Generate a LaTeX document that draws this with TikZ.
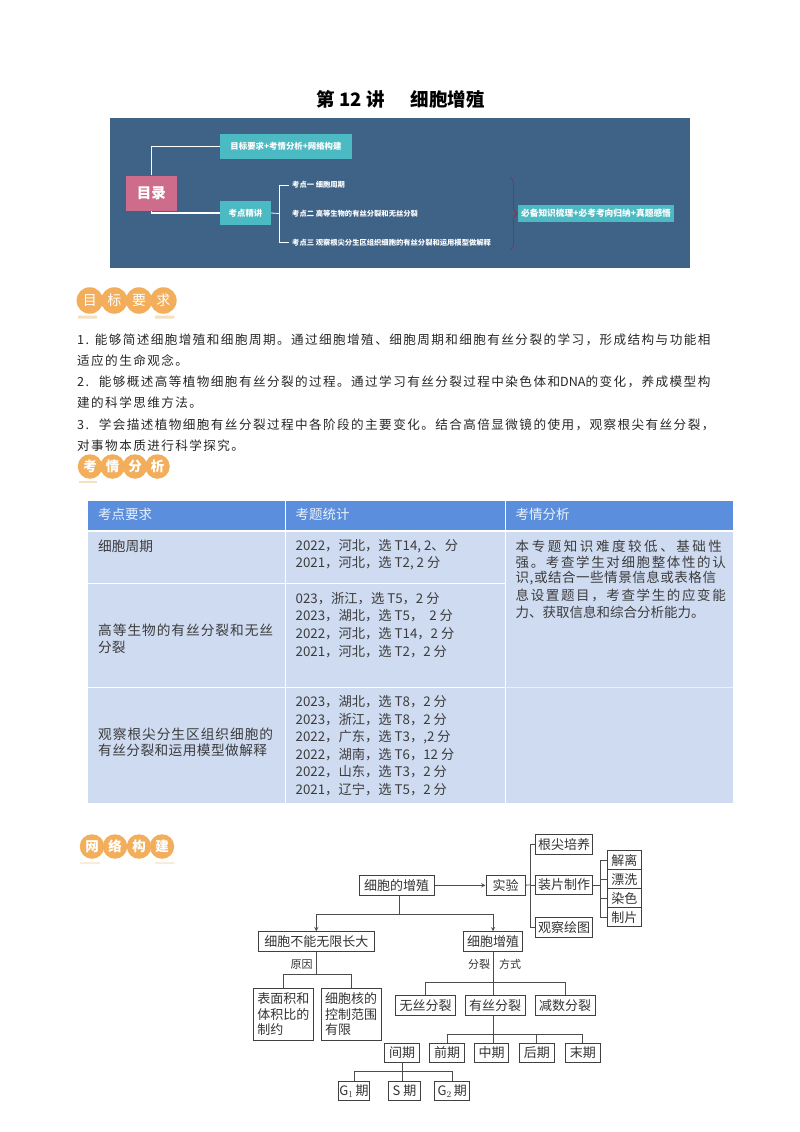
\documentclass[tikz,border=0pt]{standalone}
\usepackage{fontspec}
\setmainfont{Noto Sans CJK SC}
\newfontfamily\cjkfont{Noto Sans CJK SC}
\usetikzlibrary{decorations.pathreplacing}
\definecolor{bannerblue}{HTML}{3F6287}
\definecolor{tealbox}{HTML}{4CBAC3}
\definecolor{pinkbox}{HTML}{CE6C8B}
\definecolor{badgeorange}{HTML}{F3AE5C}
\definecolor{badgebar}{HTML}{F3DFC2}
\definecolor{headblue}{HTML}{5B8FDD}
\definecolor{cellblue}{HTML}{CFDBF1}
\definecolor{celltext}{HTML}{3C3C3C}
\definecolor{bracered}{HTML}{8A3048}
\newcommand{\fsize}[1]{\fontsize{#1}{#1}\selectfont}
\newcommand{\lsp}[1]{\addfontfeature{LetterSpace=#1}}
\tikzset{
  tealnode/.style={fill=tealbox,text=white,inner sep=0pt,font=\fsize{8.4}\bfseries},
  pointnote/.style={anchor=west,text=white,inner sep=0pt,font=\fsize{7.3}\bfseries},
  whiteline/.style={draw=white,line width=1.4pt},
  badgedisc/.style={circle,fill=badgeorange,minimum size=26.5pt,inner sep=0pt,text=white,font=\fsize{14}},
  badgeline/.style={fill=badgebar,draw=none},
  bodyline/.style={anchor=west,inner sep=0pt,text=black!85,font=\fsize{12.6}\lsp{11.3}},
  tablehead/.style={anchor=west,inner sep=0pt,text=white!88!headblue,font=\fsize{13.5}},
  tablecell/.style={anchor=west,inner sep=0pt,text=celltext,font=\fsize{13}},
  flowbox/.style={draw=black!75,line width=1pt,inner sep=0pt,text=black!80,align=center,font=\fontsize{13}{15.5}\selectfont},
  flowline/.style={draw=black!70,line width=0.9pt},
  flowarrow/.style={flowline,-stealth},
  flownote/.style={inner sep=0pt,text=black!80,font=\fsize{11}}
}
\begin{document}
\begin{tikzpicture}[x=1pt,y=-1pt]
  \useasboundingbox (0,0) rectangle (800,1132);
  \node[inner sep=0pt,font=\fsize{18.5}\bfseries] (title) at (400.5,99) {第 12 讲\hspace{26pt}细胞增殖};

  % banner
  \fill[bannerblue] (110,118) rectangle (690,268);
  \node[fill=pinkbox,text=white,inner sep=0pt,minimum width=50.5pt,minimum height=35.5pt,font=\fsize{14.5}\bfseries] (toc) at (151.3,193.3) {目录};
  \node[tealnode,minimum width=132pt,minimum height=24.5pt] (goalbox) at (286,146.3) {目标要求+考情分析+网络构建};
  \node[tealnode,minimum width=51pt,minimum height=24.5pt] (pointbox) at (245.5,213) {考点精讲};
  \node[tealnode,minimum width=156pt,minimum height=17.5pt,font=\fsize{8.7}\bfseries] (sumbox) at (596,213.3) {必备知识梳理+必考考向归纳+真题感悟};
  \draw[whiteline] (toc.north) |- (goalbox.west);
  \draw[whiteline] (toc.south) |- (pointbox.west);
  \node[pointnote] (point1) at (292,185) {考点一 细胞周期};
  \node[pointnote] (point2) at (292,214) {考点二 高等生物的有丝分裂和无丝分裂};
  \node[pointnote] (point3) at (292,242.5) {考点三 观察根尖分生区组织细胞的有丝分裂和运用模型做解释};
  \coordinate (ptree) at (279,213.5);
  \draw[white,line width=0.8pt] (pointbox.east) -- (ptree);
  \draw[white,line width=0.8pt] (point1.west) ++(-3,0) -| (ptree);
  \draw[white,line width=0.8pt] (point3.west) ++(-3,0) -| (ptree);
  \coordinate (bracetop) at (510,177);
  \coordinate (bracebot) at (510,250);
  \draw[bracered,line width=0.7pt,decorate,decoration={brace,amplitude=7pt}] (bracetop) -- (bracebot);

  % section badges
  \foreach \n/\xx/\t in {a/89.8/目,b/114.3/标,c/139/要,d/163.4/求}
    \node[badgedisc] (goal\n) at (\xx,300.5) {\t};
  \fill[badgeline] (78,315.5) rectangle (97,318.5) (155,315.5) rectangle (174,318.5);
  \foreach \n/\xx/\t in {a/90/考,b/112.5/情,c/135/分,d/157.5/析}
    \node[badgedisc,minimum size=24.5pt,font=\fsize{13.5}\bfseries] (exam\n) at (\xx,466.5) {\t};
  \fill[badgeline] (79,480.5) rectangle (97,483);
  \foreach \n/\xx/\t in {a/92/网,b/115/络,c/139/构,d/162/建}
    \node[badgedisc,minimum size=24.5pt,font=\fsize{13.5}\bfseries] (net\n) at (\xx,846.5) {\t};
  \fill[badgeline,opacity=0.6] (80,862) rectangle (100,864) (155,862) rectangle (174,864);

  % goals text
  \node[bodyline] (line1) at (77,340) {1. 能够简述细胞增殖和细胞周期。通过细胞增殖、细胞周期和细胞有丝分裂的学习，形成结构与功能相};
  \node[bodyline] (line2) at (77,360.5) {适应的生命观念。};
  \node[bodyline] (line3) at (77,382) {2.\hspace{4pt} 能够概述高等植物细胞有丝分裂的过程。通过学习有丝分裂过程中染色体和{\lsp{0}DNA}的变化，养成模型构};
  \node[bodyline] (line4) at (77,403) {建的科学思维方法。};
  \node[bodyline] (line5) at (77,424.5) {3.\hspace{4pt} 学会描述植物细胞有丝分裂过程中各阶段的主要变化。结合高倍显微镜的使用，观察根尖有丝分裂，};
  \node[bodyline] (line6) at (77,445.5) {对事物本质进行科学探究。};

  % table
  \fill[headblue] (87.5,500.5) rectangle (733,529.5);
  \fill[cellblue] (87.5,531.5) rectangle (733,802.5);
  \draw[white,line width=1pt] (285.5,500) -- (285.5,803) (505,500) -- (505,803);
  \draw[white,line width=1pt] (87,583.5) -- (505,583.5) (87,687) -- (505,687);
  \draw[white!60!cellblue,line width=0.5pt] (505,687) -- (733,687);
  \node[tablehead] (headA) at (98,514.5) {考点要求};
  \node[tablehead] (headB) at (295.5,514.5) {考题统计};
  \node[tablehead] (headC) at (515.5,514.5) {考情分析};
  \node[tablecell,font=\fsize{13.7}] (reqA) at (98,546) {细胞周期};
  \node[tablecell,font=\fsize{13.7}\lsp{7}] (reqB) at (98,630) {高等生物的有丝分裂和无丝};
  \node[tablecell,font=\fsize{13.7}] (reqC) at (98,647) {分裂};
  \node[tablecell,font=\fsize{13.7}\lsp{7}] (reqD) at (98,734) {观察根尖分生区组织细胞的};
  \node[tablecell,font=\fsize{13.7}\lsp{3}] (reqE) at (98,750) {有丝分裂和运用模型做解释};
  \foreach \n/\yy/\t in {a/546/{2022，河北，选 T14,\ 2、分},b/563.5/{2021，河北，选 T2,\ 2 分},
      c/598.5/{023，浙江，选 T5，2 分},d/616/{2023，湖北，选 T5，\ \ 2 分},
      e/633.5/{2022，河北，选 T14，2 分},f/651.5/{2021，河北，选 T2，2 分},
      g/702/{2023，湖北，选 T8，2 分},h/719.5/{2023，浙江，选 T8，2 分},
      i/737/{2022，广东，选 T3，,2 分},j/754.5/{2022，湖南，选 T6，12 分},
      k/772/{2022，山东，选 T3，2 分},l/790/{2021，辽宁，选 T5，2 分}}
    \node[tablecell,font=\fsize{13.3}] (stat\n) at (295.5,\yy) {\t};
  \node[tablecell,font=\fsize{13.5}\lsp{19}] (noteA) at (515.5,546) {本专题知识难度较低、基础性};
  \node[tablecell,font=\fsize{13.5}\lsp{12}] (noteB) at (515.5,562) {强。考查学生对细胞整体性的认};
  \node[tablecell,font=\fsize{13.5}\lsp{4}] (noteC) at (515.5,578.5) {识,或结合一些情景信息或表格信};
  \node[tablecell,font=\fsize{13.5}\lsp{12}] (noteD) at (515.5,595.5) {息设置题目，考查学生的应变能};
  \node[tablecell,font=\fsize{13.5}] (noteE) at (515.5,612) {力、获取信息和综合分析能力。};

  % network diagram
  \node[flowbox,minimum width=75pt,minimum height=20pt] (growth) at (396.7,885.3) {细胞的增殖};
  \node[flowbox,minimum width=39pt,minimum height=20pt] (experiment) at (505.5,885.3) {实验};
  \node[flowbox,minimum width=57.5pt,minimum height=20pt] (culture) at (564,844.3) {根尖培养};
  \node[flowbox,minimum width=57.5pt,minimum height=19.5pt] (mount) at (564,885) {装片制作};
  \node[flowbox,minimum width=57.5pt,minimum height=19.5pt] (observe) at (564,927.3) {观察绘图};
  \node[flowbox,minimum width=34pt,minimum height=19pt] (stepA) at (624.3,860.2) {解离};
  \node[flowbox,minimum width=34pt,minimum height=19pt] (stepB) at (624.3,879.2) {漂洗};
  \node[flowbox,minimum width=34pt,minimum height=19pt] (stepC) at (624.3,898.2) {染色};
  \node[flowbox,minimum width=34pt,minimum height=19pt] (stepD) at (624.3,917.2) {制片};
  \node[flowbox,minimum width=116pt,minimum height=20pt] (limit) at (316.3,941.7) {细胞不能无限长大};
  \node[flowbox,minimum width=59.5pt,minimum height=19.5pt] (prolif) at (493,941.5) {细胞增殖};
  \node[flowbox,align=left,minimum width=60pt,minimum height=52.5pt] (ratio) at (283.3,1014.5) {表面积和\\体积比的\\制约};
  \node[flowbox,align=left,minimum width=60pt,minimum height=52.5pt] (nucleus) at (351,1014.5) {细胞核的\\控制范围\\有限};
  \node[flowbox,minimum width=60pt,minimum height=19.5pt] (amitosis) at (425.7,1005.7) {无丝分裂};
  \node[flowbox,minimum width=60pt,minimum height=19.5pt] (mitosis) at (495,1005.7) {有丝分裂};
  \node[flowbox,minimum width=60pt,minimum height=19.5pt] (meiosis) at (565,1005.7) {减数分裂};
  \node[flowbox,minimum width=34.5pt,minimum height=19pt] (inter) at (402,1052.8) {间期};
  \node[flowbox,minimum width=34.5pt,minimum height=19pt] (pro) at (447.2,1052.8) {前期};
  \node[flowbox,minimum width=34.5pt,minimum height=19pt] (meta) at (491.5,1052.8) {中期};
  \node[flowbox,minimum width=34.5pt,minimum height=19pt] (ana) at (536.8,1052.8) {后期};
  \node[flowbox,minimum width=34.5pt,minimum height=19pt] (telo) at (582.8,1052.8) {末期};
  \node[flowbox,minimum width=30.5pt,minimum height=19pt] (gone) at (354,1090.8) {$\mathrm{G}_1$\,期};
  \node[flowbox,minimum width=31.5pt,minimum height=19pt] (sphase) at (404.5,1090.8) {S 期};
  \node[flowbox,minimum width=35pt,minimum height=19pt] (gtwo) at (452.2,1090.8) {$\mathrm{G}_2$\,期};
  \node[flownote] (cause) at (301.7,964.5) {原因};
  \node[flownote] (splitA) at (479,964.5) {分裂};
  \node[flownote] (splitB) at (510,964.5) {方式};

  \coordinate (jgrowth) at (399,914);
  \coordinate (jexp) at (530,885);
  \coordinate (jmount) at (600,885);
  \coordinate (jcause) at (316.3,974.7);
  \coordinate (jsplit) at (493,982.7);
  \coordinate (jphase) at (493,1034.7);
  \coordinate (jinter) at (402.3,1071.7);
  \draw[flowarrow] (growth) -- (experiment);
  \draw[flowline] (growth.south -| jgrowth) -- (jgrowth);
  \draw[flowarrow] (jgrowth) -| (limit.north);
  \draw[flowarrow] (jgrowth) -| (prolif.north);
  \draw[flowline] (experiment) -- (jexp);
  \draw[flowline] (culture.west) -| (jexp);
  \draw[flowline] (observe.west) -| (jexp);
  \draw[flowline] (jexp) -- (mount.west);
  \draw[flowline] (mount) -- (jmount);
  \draw[flowline] (stepA.west) -| (jmount);
  \draw[flowline] (stepD.west) -| (jmount);
  \draw[flowline] (stepB.west) -- (stepB.west -| jmount);
  \draw[flowline] (stepC.west) -- (stepC.west -| jmount);
  \draw[flowline] (limit.south) -- (jcause);
  \draw[flowline] (jcause) -| (ratio.north);
  \draw[flowline] (jcause) -| (nucleus.north);
  \draw[flowline] (prolif.south) -- (jsplit);
  \draw[flowline] (jsplit) -- (mitosis.north -| jsplit);
  \draw[flowline] (jsplit) -| (amitosis.north);
  \draw[flowline] (jsplit) -| (meiosis.north);
  \draw[flowline] (mitosis.south -| jphase) -- (jphase);
  \draw[flowline] (jphase) -| (pro.north);
  \draw[flowline] (jphase) -- (meta.north -| jphase);
  \draw[flowline] (jphase) -| (ana.north);
  \draw[flowline] (jphase) -| (telo.north);
  \draw[flowline] (inter.south -| jinter) -- (jinter);
  \draw[flowline] (jinter) -| (gone.north);
  \draw[flowline] (jinter) -- (sphase.north -| jinter);
  \draw[flowline] (jinter) -| (gtwo.north);
\end{tikzpicture}
\end{document}
